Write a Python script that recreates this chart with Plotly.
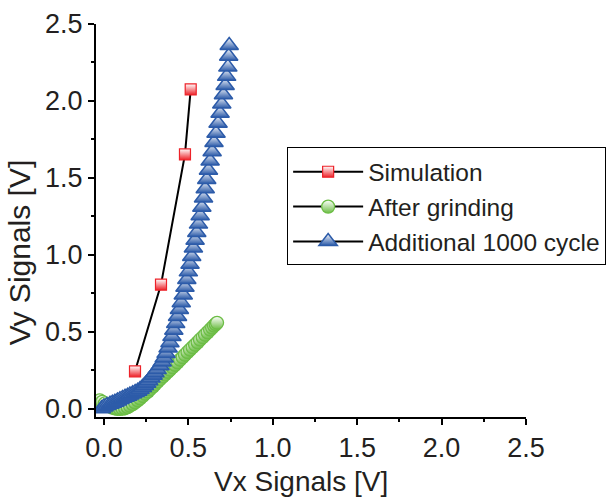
import plotly.graph_objects as go

# ---- data ----
sim_x = [0.184, 0.338, 0.480, 0.514]
sim_y = [0.244, 0.807, 1.653, 2.075]

grind_x = [-0.024, -0.010, 0.006, 0.020, 0.036, 0.050, 0.065, 0.080, 0.095, 0.110,
           0.125, 0.140, 0.154, 0.170, 0.184, 0.200, 0.214, 0.230, 0.243, 0.260,
           0.273, 0.290, 0.302, 0.318, 0.332, 0.348, 0.362, 0.377, 0.391, 0.406,
           0.421, 0.436, 0.451, 0.466, 0.480, 0.495, 0.510, 0.525, 0.540, 0.555,
           0.569, 0.585, 0.599, 0.614, 0.629, 0.641, 0.652, 0.662, 0.670]
grind_y = [0.055, 0.045, 0.036, 0.026, 0.016, 0.008, 0.003, 0.000, 0.000, 0.001,
           0.004, 0.011, 0.020, 0.030, 0.042, 0.055, 0.068, 0.083, 0.098, 0.112,
           0.127, 0.144, 0.159, 0.176, 0.192, 0.209, 0.224, 0.240, 0.254, 0.270,
           0.286, 0.302, 0.319, 0.335, 0.351, 0.368, 0.384, 0.400, 0.416, 0.432,
           0.449, 0.465, 0.481, 0.497, 0.514, 0.527, 0.540, 0.550, 0.559]

cyc_x = [-0.014, 0.000, 0.018, 0.036, 0.050, 0.065, 0.080, 0.095, 0.110, 0.125,
         0.140, 0.154, 0.170, 0.185, 0.200, 0.214, 0.228, 0.240, 0.253, 0.265,
         0.278, 0.291, 0.302, 0.315, 0.332, 0.345, 0.357, 0.368, 0.380, 0.391,
         0.403, 0.414, 0.425, 0.436, 0.447, 0.458, 0.470, 0.480, 0.491, 0.500,
         0.510, 0.520, 0.530, 0.540, 0.550, 0.560, 0.570, 0.580, 0.590, 0.600,
         0.609, 0.619, 0.629, 0.641, 0.652, 0.664, 0.676, 0.688, 0.698, 0.708,
         0.718, 0.727, 0.734, 0.739, 0.742]
cyc_y = [0.000, 0.012, 0.022, 0.030, 0.036, 0.043, 0.051, 0.060, 0.068, 0.075,
         0.082, 0.090, 0.098, 0.106, 0.115, 0.125, 0.138, 0.152, 0.167, 0.182,
         0.200, 0.218, 0.235, 0.255, 0.280, 0.305, 0.330, 0.360, 0.395, 0.430,
         0.470, 0.510, 0.555, 0.600, 0.645, 0.690, 0.740, 0.790, 0.840, 0.890,
         0.940, 0.990, 1.045, 1.095, 1.145, 1.200, 1.255, 1.310, 1.370, 1.430,
         1.490, 1.550, 1.610, 1.670, 1.730, 1.790, 1.855, 1.920, 1.980, 2.040,
         2.100, 2.160, 2.220, 2.290, 2.360]

tick_vals = [0.0, 0.5, 1.0, 1.5, 2.0, 2.5]
tick_text = ["0.0", "0.5", "1.0", "1.5", "2.0", "2.5"]

RED = "#ED2229"
GREEN = "#6CBD45"
BLUE = "#2C5BA9"
TXT = "#231F20"
FONT = "Liberation Sans, Arial, sans-serif"

fig = go.Figure()

fig.add_trace(go.Scatter(
    x=grind_x, y=grind_y, name="After grinding", mode="lines+markers",
    line=dict(color="black", width=2), legendrank=2,
    marker=dict(symbol="circle", size=13, color="white",
                gradient=dict(type="vertical", color=GREEN),
                line=dict(color=GREEN, width=1.3)),
))
fig.add_trace(go.Scatter(
    x=cyc_x, y=cyc_y, name="Additional 1000 cycle", mode="lines+markers",
    line=dict(color="black", width=2), legendrank=3,
    marker=dict(symbol="triangle-up", size=16, color="white",
                gradient=dict(type="vertical", color=BLUE),
                line=dict(color=BLUE, width=1.5)),
))
fig.add_trace(go.Scatter(
    x=sim_x, y=sim_y, name="Simulation", mode="lines+markers",
    line=dict(color="black", width=2), legendrank=1,
    marker=dict(symbol="square", size=11, color="white",
                gradient=dict(type="vertical", color=RED),
                line=dict(color=RED, width=1.2)),
))

axis_common = dict(
    showline=True, linecolor="black", linewidth=2, mirror=False,
    ticks="outside", ticklen=6, tickwidth=2, tickcolor="black",
    tickvals=tick_vals, ticktext=tick_text, automargin=False,
    minor=dict(dtick=0.25, ticks="outside", ticklen=3, tickwidth=2, tickcolor="black"),
    showgrid=False, zeroline=False,
    tickfont=dict(family=FONT, size=27, color=TXT),
)

fig.update_layout(
    width=606, height=504,
    margin=dict(l=96, r=80, t=24, b=87, autoexpand=False),
    paper_bgcolor="white", plot_bgcolor="white",
    xaxis=dict(range=[-0.047, 2.5], **axis_common),
    yaxis=dict(range=[-0.053, 2.5], **axis_common),
    showlegend=True,
    legend=dict(x=0.4445, y=0.687, xanchor="left", yanchor="top",
                bgcolor="white", bordercolor="black", borderwidth=1,
                font=dict(family=FONT, size=24.5, color=TXT),
                title=dict(text="&nbsp;", font=dict(size=1)),
                itemwidth=70, tracegroupgap=0),
    annotations=[
        dict(text="Vx Signals [V]", xref="paper", yref="paper",
             x=0.477, y=-0.164, xanchor="center", yanchor="middle",
             showarrow=False, font=dict(family=FONT, size=28, color=TXT)),
        dict(text="Vy Signals [V]", xref="paper", yref="paper",
             x=-0.179, y=0.419, xanchor="center", yanchor="middle", textangle=-90,
             showarrow=False, font=dict(family=FONT, size=30, color=TXT)),
    ],
)

fig.write_html("out.html", config={"displayModeBar": False},
               post_script="document.body.style.margin='0';")
